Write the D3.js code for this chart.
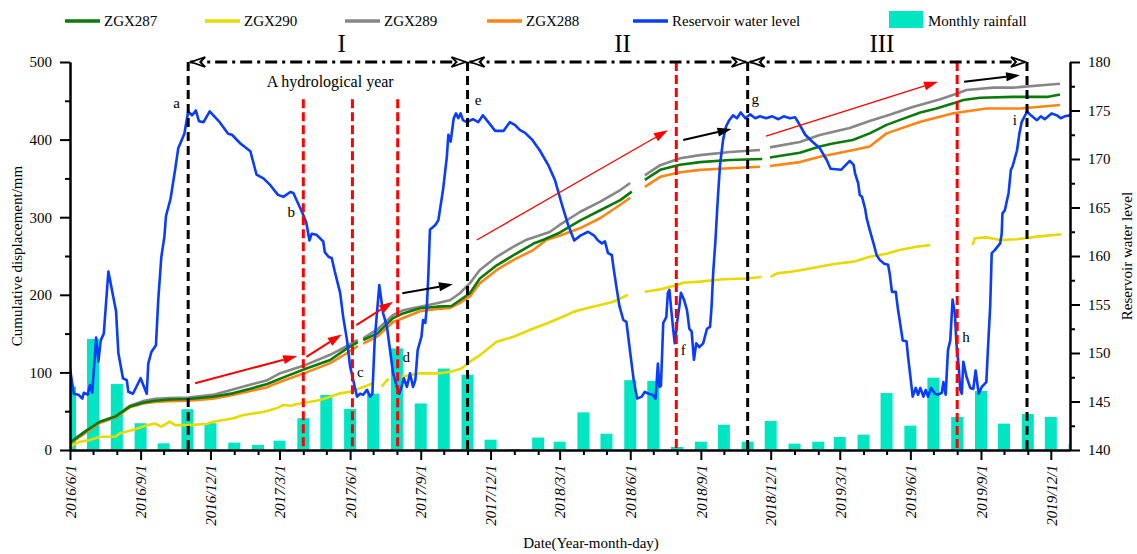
<!DOCTYPE html>
<html>
<head>
<meta charset="utf-8">
<script src="https://cdn.jsdelivr.net/npm/d3@7"></script>
<style>
  body { margin: 0; background: #fff; }
  svg { display: block; font-family: "Liberation Serif", "Times New Roman", serif; }
</style>
</head>
<body>
<svg id="chart" width="1137" height="554"></svg>
<script>
// ---------- data ----------
const majorTickDates = ["2016-06-01","2016-09-01","2016-12-01","2017-03-01","2017-06-01","2017-09-01",
  "2017-12-01","2018-03-01","2018-06-01","2018-09-01","2018-12-01","2019-03-01","2019-06-01","2019-09-01","2019-12-01"];
const leftTicks = [0, 100, 200, 300, 400, 500];
const leftMinorTicks = [50, 150, 250, 350, 450];
const rightTicks = [140, 145, 150, 155, 160, 165, 170, 175, 180];
const rightMinorTicks = [142.5, 147.5, 152.5, 157.5, 162.5, 167.5, 172.5, 177.5];

// monthly rainfall (mm)
const rainfall = [
  ["2016-06-01",82],["2016-07-01",143],["2016-08-01",85],["2016-09-01",34.5],["2016-10-01",8.6],["2016-11-01",52.6],["2016-12-01",34.5],
  ["2017-01-01",9.5],["2017-02-01",6.5],["2017-03-01",12],["2017-04-01",41],["2017-05-01",71],["2017-06-01",53],["2017-07-01",72.6],
  ["2017-08-01",131],["2017-09-01",60],["2017-10-01",105],["2017-11-01",97],["2017-12-01",13.3],
  ["2018-01-01",1],["2018-02-01",16],["2018-03-01",10.7],["2018-04-01",48.5],["2018-05-01",21],["2018-06-01",90],["2018-07-01",89],
  ["2018-08-01",3.9],["2018-09-01",10.7],["2018-10-01",32.6],["2018-11-01",10.7],["2018-12-01",37.4],
  ["2019-01-01",8.2],["2019-02-01",10.7],["2019-03-01",16.8],["2019-04-01",19.8],["2019-05-01",73.5],["2019-06-01",31.4],
  ["2019-07-01",93.2],["2019-08-01",42.5],["2019-09-01",76],["2019-10-01",34],["2019-11-01",46.4],["2019-12-01",42.5],["2020-01-01",8]
];

// reservoir water level (m)
const waterLevel = [
  ["2016-06-01",148.4],["2016-06-06",145.8],["2016-06-12",145.7],["2016-06-17",145.3],["2016-06-19",145.9],["2016-06-24",145.7],
  ["2016-06-27",146.7],["2016-06-30",145.9],["2016-07-05",151.6],["2016-07-08",149.1],["2016-07-11",151.3],["2016-07-15",152.0],
  ["2016-07-21",158.4],["2016-07-31",154.3],["2016-08-03",150.0],["2016-08-09",147.4],["2016-08-14",147.2],["2016-08-16",146.0],
  ["2016-08-22",145.8],["2016-09-01",147.4],["2016-09-09",145.8],["2016-09-11",148.9],["2016-09-15",150.1],["2016-09-21",150.8],
  ["2016-09-24",155.5],["2016-09-28",159.9],["2016-10-02",162.0],["2016-10-04",164.1],["2016-10-10",165.9],["2016-10-16",168.9],
  ["2016-10-20",171.1],["2016-10-28",172.6],["2016-11-02",174.9],["2016-11-07",174.5],["2016-11-12",175.0],["2016-11-16",173.9],
  ["2016-11-22",173.8],["2016-11-30",174.9],["2016-12-13",173.8],["2016-12-24",172.6],["2016-12-29",172.5],
  ["2017-01-09",171.6],["2017-01-22",170.8],["2017-01-30",168.4],["2017-02-08",168.0],["2017-02-17",167.3],["2017-02-27",166.3],
  ["2017-03-06",166.1],["2017-03-15",166.6],["2017-03-19",166.5],["2017-03-31",164.4],["2017-04-05",163.4],["2017-04-09",161.6],
  ["2017-04-12",162.3],["2017-04-18",162.2],["2017-04-27",161.5],["2017-04-29",160.4],["2017-05-04",159.9],["2017-05-08",159.8],
  ["2017-05-12",158.4],["2017-05-19",156.2],["2017-05-23",153.7],["2017-05-28",151.3],["2017-06-01",148.6],["2017-06-04",147.6],
  ["2017-06-07",146.5],["2017-06-10",145.5],["2017-06-14",145.8],["2017-06-18",145.7],["2017-06-23",146.2],["2017-06-27",145.5],
  ["2017-06-30",145.8],["2017-07-03",151.3],["2017-07-09",157.0],["2017-07-14",154.1],["2017-07-19",152.7],["2017-07-23",150.3],
  ["2017-07-27",147.9],["2017-08-01",146.5],["2017-08-04",145.8],["2017-08-07",146.5],["2017-08-10",147.4],["2017-08-14",146.5],
  ["2017-08-18",147.9],["2017-08-22",146.5],["2017-08-25",147.2],["2017-08-28",150.3],["2017-09-02",151.7],["2017-09-04",153.4],
  ["2017-09-07",153.1],["2017-09-09",154.8],["2017-09-11",158.2],["2017-09-13",162.7],["2017-09-20",163.2],["2017-09-24",163.7],
  ["2017-09-30",166.8],["2017-10-05",170.2],["2017-10-07",172.5],["2017-10-10",171.8],["2017-10-14",174.2],["2017-10-17",174.7],
  ["2017-10-20",174.2],["2017-10-23",174.7],["2017-10-26",174.0],["2017-10-31",173.8],["2017-11-08",174.1],["2017-11-15",173.8],
  ["2017-11-21",174.5],["2017-11-28",173.8],["2017-12-07",172.9],["2017-12-18",172.9],["2017-12-26",173.8],
  ["2018-01-02",173.5],["2018-01-08",173.0],["2018-01-15",172.7],["2018-01-24",172.0],["2018-02-03",170.9],["2018-02-14",169.4],
  ["2018-02-23",167.8],["2018-03-04",165.3],["2018-03-12",163.2],["2018-03-20",161.6],["2018-03-28",162.1],["2018-04-07",162.5],
  ["2018-04-15",162.1],["2018-04-20",161.6],["2018-04-25",161.3],["2018-04-29",161.5],["2018-05-03",160.3],["2018-05-08",160.1],
  ["2018-05-10",158.9],["2018-05-14",156.8],["2018-05-18",154.8],["2018-05-23",153.4],["2018-05-27",153.2],["2018-06-01",150.0],
  ["2018-06-06",146.9],["2018-06-10",145.3],["2018-06-16",145.5],["2018-06-20",146.0],["2018-06-25",145.8],["2018-06-30",145.7],
  ["2018-07-04",145.3],["2018-07-07",148.9],["2018-07-09",146.5],["2018-07-11",146.6],["2018-07-14",153.1],["2018-07-18",153.7],
  ["2018-07-20",156.2],["2018-07-22",156.5],["2018-07-24",154.8],["2018-07-27",152.4],["2018-07-29",151.0],["2018-08-01",153.1],
  ["2018-08-04",154.8],["2018-08-06",156.2],["2018-08-10",155.5],["2018-08-14",154.4],["2018-08-17",152.5],["2018-08-20",152.2],
  ["2018-08-23",149.3],["2018-08-26",151.0],["2018-08-30",150.6],["2018-09-04",151.0],["2018-09-09",152.5],["2018-09-13",152.7],
  ["2018-09-15",154.8],["2018-09-17",158.2],["2018-09-20",161.6],["2018-09-23",165.8],["2018-09-26",169.4],["2018-09-30",172.0],
  ["2018-10-04",173.4],["2018-10-08",174.0],["2018-10-13",174.5],["2018-10-18",174.2],["2018-10-23",174.8],["2018-10-29",174.2],
  ["2018-11-04",174.6],["2018-11-11",174.2],["2018-11-17",174.4],["2018-11-25",174.2],["2018-12-03",174.4],["2018-12-11",174.1],
  ["2018-12-18",174.4],["2018-12-26",174.2],
  ["2019-01-02",174.3],["2019-01-08",173.5],["2019-01-15",172.5],["2019-01-24",171.8],["2019-02-03",171.1],["2019-02-12",169.9],
  ["2019-02-17",169.0],["2019-03-03",168.9],["2019-03-14",169.8],["2019-03-19",169.4],["2019-03-21",168.5],["2019-03-25",167.5],
  ["2019-03-27",166.3],["2019-03-30",166.1],["2019-04-03",164.9],["2019-04-05",163.9],["2019-04-09",162.7],["2019-04-14",161.3],
  ["2019-04-18",160.1],["2019-04-22",159.6],["2019-04-28",159.2],["2019-05-03",159.1],["2019-05-05",158.2],["2019-05-08",156.3],
  ["2019-05-13",156.3],["2019-05-16",154.4],["2019-05-18",153.4],["2019-05-22",151.3],["2019-05-27",151.2],["2019-05-29",149.6],
  ["2019-06-01",147.6],["2019-06-04",145.5],["2019-06-08",146.4],["2019-06-11",145.7],["2019-06-14",146.4],["2019-06-18",145.5],
  ["2019-06-21",146.2],["2019-06-24",145.5],["2019-06-28",146.4],["2019-07-03",145.8],["2019-07-07",145.7],["2019-07-12",145.9],
  ["2019-07-14",147.0],["2019-07-17",145.7],["2019-07-20",150.3],["2019-07-23",151.3],["2019-07-26",155.5],["2019-07-29",154.1],
  ["2019-07-31",151.0],["2019-08-03",148.6],["2019-08-05",146.2],["2019-08-07",145.8],["2019-08-09",149.1],["2019-08-13",147.6],
  ["2019-08-18",146.4],["2019-08-22",146.3],["2019-08-25",148.2],["2019-08-29",145.8],["2019-09-02",146.5],["2019-09-08",147.0],
  ["2019-09-10",150.3],["2019-09-13",154.8],["2019-09-15",160.3],["2019-09-19",160.6],["2019-09-26",161.3],["2019-09-28",162.3],
  ["2019-09-29",164.4],["2019-10-02",164.7],["2019-10-07",166.5],["2019-10-10",168.9],["2019-10-12",169.2],["2019-10-18",170.9],
  ["2019-10-21",172.6],["2019-10-24",173.8],["2019-10-31",174.9],["2019-11-05",174.5],["2019-11-13",174.0],["2019-11-18",174.4],
  ["2019-11-23",174.1],["2019-12-02",174.7],["2019-12-09",174.5],["2019-12-14",174.2],["2019-12-19",174.4],["2019-12-26",174.5]
];

// cumulative displacement (mm); null marks a break in monitoring
const zgx287 = [
  ["2016-06-01",9.4],["2016-06-21",24],["2016-07-10",36.5],["2016-07-30",43],["2016-08-18",56],["2016-09-04",61],["2016-09-20",63.5],
  ["2016-10-09",65],["2016-11-02",65.7],["2016-12-04",68.7],["2016-12-30",73],["2017-01-22",79],["2017-02-13",85],["2017-03-02",92],
  ["2017-04-05",105],["2017-05-06",116],["2017-05-28",131],["2017-06-11",139], null,
  ["2017-06-18",141.7],["2017-07-06",150],["2017-07-27",170],["2017-08-09",176],["2017-08-31",182.6],["2017-09-22",184.7],
  ["2017-10-11",185.6],["2017-10-22",193],["2017-11-04",202],["2017-11-17",221],["2017-12-09",238],["2017-12-31",251],
  ["2018-01-26",266],["2018-02-08",271],["2018-03-01",280],["2018-03-28",296],["2018-04-23",309],["2018-05-19",322],["2018-06-03",333], null,
  ["2018-06-20",348],["2018-07-10",361],["2018-08-05",367.5],["2018-08-31",371],["2018-10-09",373.7],["2018-11-20",375], null,
  ["2018-11-30",377],["2019-01-08",383],["2019-02-03",391],["2019-02-20",395],["2019-03-18",399.5],["2019-04-09",408],["2019-05-01",419],
  ["2019-05-23",427],["2019-06-14",435],["2019-07-05",440],["2019-07-27",446.7],["2019-08-09",451],["2019-08-31",454],["2019-10-13",455],
  ["2019-11-26",455],["2019-12-13",458]
];
const zgx289 = [
  ["2016-06-01",9.4],["2016-06-21",24],["2016-07-10",36.5],["2016-07-30",43.5],["2016-08-18",57],["2016-09-04",63],["2016-09-20",66],
  ["2016-10-09",67],["2016-11-02",67.5],["2016-12-04",71],["2016-12-30",78],["2017-02-13",90],["2017-03-02",99],
  ["2017-04-05",110],["2017-05-06",122.7],["2017-05-28",134],["2017-06-11",142], null,
  ["2017-06-18",144],["2017-07-06",155],["2017-07-27",174],["2017-08-09",180],["2017-08-31",184.7],["2017-09-22",189],
  ["2017-10-09",193],["2017-10-22",202],["2017-11-04",215],["2017-11-17",232],["2017-12-09",249],["2017-12-31",262],
  ["2018-01-17",271],["2018-02-16",281],["2018-03-01",290],["2018-03-28",307],["2018-04-23",320],["2018-05-19",335],["2018-06-01",344], null,
  ["2018-06-20",354],["2018-07-10",367],["2018-08-05",376],["2018-08-31",380],["2018-10-09",384],["2018-11-17",386.6], null,
  ["2018-11-30",390],["2019-01-08",397],["2019-02-03",406],["2019-03-14",415],["2019-04-09",424],["2019-05-05",432],["2019-06-04",442],
  ["2019-07-10",452],["2019-07-31",459],["2019-08-13",464],["2019-09-17",467],["2019-10-13",467],["2019-12-13",472]
];
const zgx288 = [
  ["2016-06-01",8],["2016-06-21",22],["2016-07-10",35],["2016-07-30",42],["2016-08-18",55],["2016-09-04",60],["2016-09-20",62],
  ["2016-10-09",63],["2016-11-02",63.5],["2016-12-04",66],["2016-12-30",71],["2017-02-13",81],["2017-03-02",88],
  ["2017-04-05",100],["2017-05-06",112],["2017-05-28",125],["2017-06-11",134], null,
  ["2017-06-18",137],["2017-07-06",146],["2017-07-27",165],["2017-08-09",170],["2017-08-31",178.7],["2017-09-22",181.7],
  ["2017-10-09",183],["2017-10-22",189.5],["2017-11-04",198],["2017-11-17",215],["2017-12-09",232],["2017-12-31",245],
  ["2018-01-26",258],["2018-02-12",271],["2018-03-01",276],["2018-03-28",286],["2018-04-23",299],["2018-05-19",316],["2018-06-01",325], null,
  ["2018-06-20",339],["2018-07-10",352],["2018-08-05",358],["2018-08-31",361],["2018-10-09",363],["2018-11-17",365], null,
  ["2018-11-30",366],["2019-01-08",371],["2019-02-03",378],["2019-03-19",386.6],["2019-04-09",391],["2019-05-01",408],["2019-06-14",423],
  ["2019-07-27",434],["2019-09-08",440],["2019-10-22",440],["2019-12-13",444.6]
];
const zgx290 = [
  ["2016-06-01",4.3],["2016-06-14",10.7],["2016-06-27",12.9],["2016-07-10",17],["2016-07-30",17],["2016-08-05",21.5],["2016-08-22",25.8],
  ["2016-09-09",32],["2016-09-20",34],["2016-09-28",30],["2016-10-09",36.5],["2016-10-16",32],["2016-10-31",32],["2016-11-26",33.5],
  ["2016-12-05",36.5],["2016-12-18",38.7],["2016-12-31",40.8],["2017-01-13",45],["2017-02-08",49],["2017-02-25",53.7],["2017-03-06",58],
  ["2017-03-15",57],["2017-03-28",60],["2017-04-23",64.4],["2017-05-06",68.7],["2017-05-19",73],["2017-06-01",75],["2017-06-14",79.5],
  ["2017-07-01",86], null,
  ["2017-07-12",81.6],["2017-07-21",92], null,
  ["2017-08-07",94.5],["2017-08-31",98.8],["2017-09-26",98.8],["2017-10-11",101],["2017-10-24",105],["2017-11-04",113.8],
  ["2017-11-17",122],["2017-12-09",139.6],["2017-12-31",146],["2018-01-21",154.6],["2018-02-12",163],["2018-03-06",172],
  ["2018-03-19",178],["2018-04-05",182.6],["2018-04-23",187],["2018-05-10",191],["2018-05-29",200], null,
  ["2018-06-20",204],["2018-07-10",207],["2018-08-01",212.6],["2018-08-09",215.6],["2018-08-31",217],["2018-09-30",220],
  ["2018-10-31",221],["2018-11-19",223], null,
  ["2018-12-01",223],["2018-12-09",227.6],["2018-12-30",230],["2019-01-21",234],["2019-02-14",238.4],["2019-03-01",240.6],
  ["2019-03-19",242.7],["2019-04-09",249],["2019-05-01",253],["2019-05-18",257.7],["2019-06-09",262],["2019-06-27",264], null,
  ["2019-08-21",264],["2019-08-24",272.8],["2019-09-08",274],["2019-09-26",270.6],["2019-10-18",271.5],["2019-11-13",275],["2019-12-15",278]
];

// hydrological-year boundaries (black) and key moments (red)
const yearBounds = [["a","2016-11-02"],["e","2017-11-01"],["g","2018-11-01"],["i","2019-10-31"]];
const keyMoments = [["b","2017-04-01",true],["c","2017-06-04",true],["d","2017-08-02",true],["f","2018-07-31",false],["h","2019-08-01",false]];
const periods = [["I","2017-05-21"],["II","2018-05-22"],["III","2019-04-25"]];

// ---------- layout ----------
const parse = d3.timeParse("%Y-%m-%d");
const svg = d3.select("#chart");
const X0 = 70, X1 = 1070, Y0 = 450, Y1 = 62;
const FONT = '"Liberation Serif","Times New Roman",serif';

const x = d3.scaleTime().domain([parse("2016-06-01"), parse("2019-12-26")]).range([X0, X1]);
const yL = d3.scaleLinear().domain([0, 500]).range([Y0, Y1]);
const yR = d3.scaleLinear().domain([140, 180]).range([Y0, Y1]);

const C = { g287: "#0a7a0a", g290: "#e6db00", g289: "#878787", g288: "#ff8412", water: "#0a3cff", rain: "#00e6c3" };

svg.append("defs").append("clipPath").attr("id", "plot")
  .append("rect").attr("x", X0).attr("y", Y1 - 2).attr("width", X1 - X0).attr("height", Y0 - Y1 + 2);
const plot = svg.append("g").attr("clip-path", "url(#plot)");

// rainfall bars
const barW = 12;
plot.selectAll("rect.bar").data(rainfall).join("rect").attr("class", "bar")
  .attr("x", d => x(parse(d[0])) - barW / 2).attr("width", barW)
  .attr("y", d => yL(d[1])).attr("height", d => Y0 - yL(d[1]))
  .attr("fill", C.rain);

// displacement lines
const dispLine = d3.line().defined(d => d !== null).x(d => x(parse(d[0]))).y(d => yL(d[1]));
[[zgx290, C.g290], [zgx288, C.g288], [zgx289, C.g289], [zgx287, C.g287]].forEach(([s, c]) => {
  plot.append("path").datum(s).attr("d", dispLine).attr("fill", "none")
    .attr("stroke", c).attr("stroke-width", 2.6).attr("stroke-linejoin", "round");
});

// reservoir water level
const wl = d3.line().x(d => x(parse(d[0]))).y(d => yR(d[1]));
plot.append("path").datum(waterLevel).attr("d", wl).attr("fill", "none")
  .attr("stroke", C.water).attr("stroke-width", 2.6).attr("stroke-linejoin", "round");

// vertical marker lines
yearBounds.forEach(([k, d]) => {
  svg.append("line").attr("x1", x(parse(d))).attr("x2", x(parse(d))).attr("y1", Y1).attr("y2", Y0)
    .attr("stroke", "#000").attr("stroke-width", 3).attr("stroke-dasharray", "9,5");
});
keyMoments.forEach(([k, d, short]) => {
  svg.append("line").attr("x1", x(parse(d))).attr("x2", x(parse(d)))
    .attr("y1", short ? yL(452) : Y1).attr("y2", Y0)
    .attr("stroke", "#ff0000").attr("stroke-width", 3).attr("stroke-dasharray", "9,4");
});

// hydrological-year span lines with open arrowheads
function openHead(tx, ty, dir) {
  const p = `M${tx - dir * 14},${ty - 5} L${tx},${ty} L${tx - dir * 14},${ty + 5} L${tx - dir * 9},${ty} Z`;
  svg.append("path").attr("d", p).attr("fill", "#fff").attr("stroke", "#000").attr("stroke-width", 1.8);
}
for (let i = 0; i < yearBounds.length - 1; i++) {
  const xa = x(parse(yearBounds[i][1])), xb = x(parse(yearBounds[i + 1][1]));
  svg.append("line").attr("x1", xa + 2).attr("x2", xb - 2).attr("y1", Y1).attr("y2", Y1)
    .attr("stroke", "#000").attr("stroke-width", 3).attr("stroke-dasharray", "12,5,3,5");
  openHead(xa + 3, Y1, -1);
  openHead(xb - 2, Y1, 1);
}

// trend arrows
function arrow(d1, v1, d2, v2, color, w, hl, hw) {
  const xa = x(parse(d1)), ya = yL(v1), xb = x(parse(d2)), yb = yL(v2);
  const ang = Math.atan2(yb - ya, xb - xa);
  const bx = xb - Math.cos(ang) * hl, by = yb - Math.sin(ang) * hl;
  svg.append("line").attr("x1", xa).attr("y1", ya).attr("x2", bx).attr("y2", by)
    .attr("stroke", color).attr("stroke-width", w);
  const nx = -Math.sin(ang) * hw / 2, ny = Math.cos(ang) * hw / 2;
  svg.append("path").attr("d", `M${xb},${yb} L${bx + nx},${by + ny} L${bx - nx},${by - ny} Z`).attr("fill", color);
}
const redArrows = [
  ["2016-11-11", 86, "2017-03-24", 121, 2],
  ["2017-04-05", 120, "2017-05-21", 149, 2],
  ["2017-06-09", 161, "2017-07-27", 191, 2],
  ["2017-11-13", 270.6, "2018-07-20", 412, 1.3],
  ["2018-11-25", 404.6, "2019-07-07", 474.6, 1.3]
];
const blackArrows = [
  ["2017-08-08", 202, "2017-10-13", 213.5],
  ["2018-08-09", 399.5, "2018-10-11", 413.7],
  ["2019-08-10", 474.6, "2019-10-22", 483]
];
redArrows.forEach(a => arrow(a[0], a[1], a[2], a[3], "#ff0000", a[4], 14, 9));
blackArrows.forEach(a => arrow(a[0], a[1], a[2], a[3], "#000", 2, 14, 9));

// point labels
const pointLabels = [
  ["a", "2016-11-02", -11.5, 447], ["b", "2017-04-01", -12, 307], ["c", "2017-06-04", 8, 101],
  ["d", "2017-08-02", 8.5, 120], ["e", "2017-11-01", 10.5, 451], ["f", "2018-07-31", 7, 129],
  ["g", "2018-11-01", 7.5, 453], ["h", "2019-08-01", 8.7, 146], ["i", "2019-10-31", -12.3, 425]
];
pointLabels.forEach(([t, d, dx, v]) => {
  svg.append("text").attr("x", x(parse(d)) + dx).attr("y", yL(v)).attr("dy", "0.35em")
    .attr("text-anchor", "middle").attr("font-size", 15).attr("font-family", FONT).text(t);
});

// period numerals and note
periods.forEach(([t, d]) => {
  svg.append("text").attr("x", x(parse(d))).attr("y", 52).attr("text-anchor", "middle")
    .attr("font-size", 25).attr("font-family", FONT).text(t);
});
svg.append("text").attr("x", x(parse("2017-05-06"))).attr("y", 87).attr("text-anchor", "middle")
  .attr("font-size", 16).attr("font-family", FONT).text("A hydrological year");

// ---------- axes ----------
function styleAxis(g) {
  g.attr("font-family", FONT).attr("font-size", 15);
  g.selectAll("path.domain").attr("stroke-width", 2).attr("stroke", "#000");
  g.selectAll(".tick line").attr("stroke-width", 2).attr("stroke", "#000");
  g.selectAll(".tick text").attr("fill", "#000");
}
const majorDates = majorTickDates.map(parse);
const minorDates = d3.timeMonth.range(parse("2016-06-01"), parse("2019-12-26")).filter(d => !majorDates.some(m => +m === +d));

const gxMinor = svg.append("g").attr("transform", `translate(0,${Y0})`)
  .call(d3.axisBottom(x).tickValues(minorDates).tickSize(5).tickSizeOuter(0).tickFormat(""));
styleAxis(gxMinor);
const gx = svg.append("g").attr("transform", `translate(0,${Y0})`)
  .call(d3.axisBottom(x).tickValues(majorDates).tickSize(10).tickSizeOuter(0).tickFormat(d3.timeFormat("%Y/%-m/%-d")));
styleAxis(gx);
gx.selectAll(".tick text").attr("transform", "rotate(-90)").attr("x", -15).attr("y", 0).attr("dy", "0.35em")
  .attr("text-anchor", "end").style("font-style", "italic");

const gyMinor = svg.append("g").attr("transform", `translate(${X0},0)`)
  .call(d3.axisLeft(yL).tickValues(leftMinorTicks).tickSize(5).tickSizeOuter(0).tickFormat(""));
styleAxis(gyMinor);
const gy = svg.append("g").attr("transform", `translate(${X0},0)`)
  .call(d3.axisLeft(yL).tickValues(leftTicks).tickSize(10).tickPadding(8).tickSizeOuter(0));
styleAxis(gy);

const grMinor = svg.append("g").attr("transform", `translate(${X1},0)`)
  .call(d3.axisRight(yR).tickValues(rightMinorTicks).tickSize(5).tickSizeOuter(0).tickFormat(""));
styleAxis(grMinor);
const gr = svg.append("g").attr("transform", `translate(${X1},0)`)
  .call(d3.axisRight(yR).tickValues(rightTicks).tickSize(10).tickPadding(8).tickSizeOuter(0));
styleAxis(gr);

// axis titles
svg.append("text").attr("transform", "translate(17,256) rotate(-90)").attr("text-anchor", "middle")
  .attr("dy", "0.35em").attr("font-size", 15).attr("font-family", FONT).text("Cumulative displacement/mm");
svg.append("text").attr("transform", "translate(1127,256) rotate(-90)").attr("text-anchor", "middle")
  .attr("dy", "0.35em").attr("font-size", 15).attr("font-family", FONT).text("Reservoir water level");
svg.append("text").attr("x", 591).attr("y", 548).attr("text-anchor", "middle")
  .attr("font-size", 15).attr("font-family", FONT).text("Date(Year-month-day)");

// ---------- legend ----------
const legendItems = [
  ["ZGX287", C.g287, 65], ["ZGX290", C.g290, 205], ["ZGX289", C.g289, 345],
  ["ZGX288", C.g288, 487], ["Reservoir water level", C.water, 633]
];
legendItems.forEach(([t, c, lx]) => {
  svg.append("line").attr("x1", lx).attr("x2", lx + 35).attr("y1", 21).attr("y2", 21)
    .attr("stroke", c).attr("stroke-width", 3.5);
  svg.append("text").attr("x", lx + 39).attr("y", 26).attr("font-size", 15).attr("font-family", FONT).text(t);
});
svg.append("rect").attr("x", 889).attr("y", 11).attr("width", 34).attr("height", 17).attr("fill", C.rain);
svg.append("text").attr("x", 928).attr("y", 26).attr("font-size", 15).attr("font-family", FONT).text("Monthly rainfall");
</script>
</body>
</html>
